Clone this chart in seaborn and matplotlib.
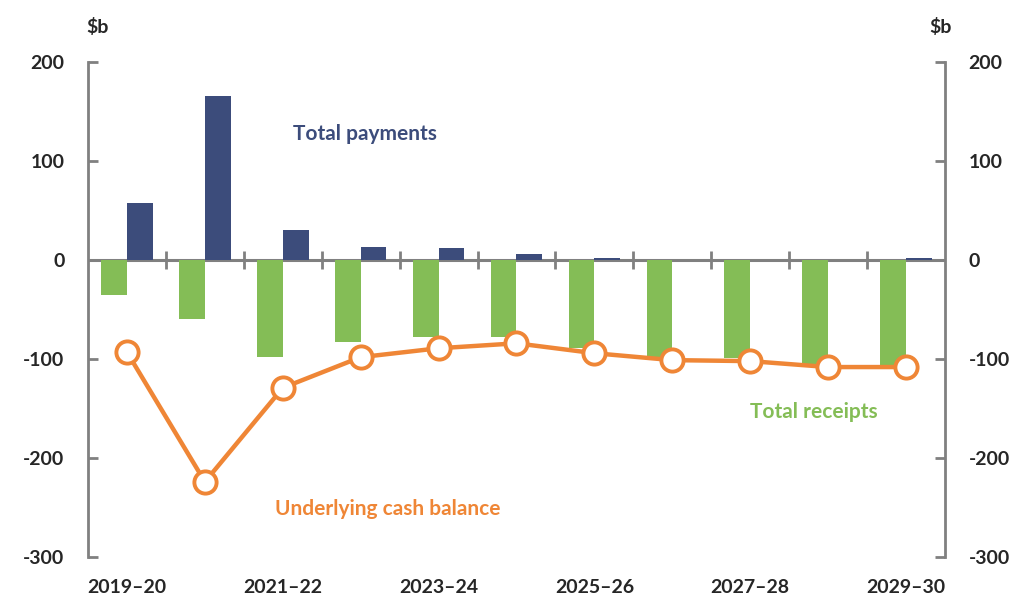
import numpy as np
import pandas as pd
import seaborn as sns
import matplotlib.pyplot as plt

years = ["2019–20", "2020–21", "2021–22", "2022–23", "2023–24", "2024–25",
         "2025–26", "2026–27", "2027–28", "2028–29", "2029–30"]
receipts = [-35, -59, -98, -83, -78, -78, -89, -98, -99, -108, -106]
payments = [58, 166, 31, 13, 12, 6, 2.5, 0.5, 0, 0, 2.5]
balance = [-93, -224, -129, -98, -89, -84, -94, -101, -102, -108, -108]

navy = "#3C4C7B"
green = "#84BD56"
orange = "#EF8636"
grey = "#808080"

sns.set_style("white")
plt.rcParams['font.family'] = ['Lato', 'DejaVu Sans']
plt.rcParams['font.weight'] = 'bold'
plt.rcParams['axes.unicode_minus'] = False

df = pd.DataFrame({
    "year": years * 2,
    "series": ["Total receipts"] * len(years) + ["Total payments"] * len(years),
    "value": receipts + payments,
})

fig = plt.figure(figsize=(10.25, 6.04), dpi=100)
ax = fig.add_axes([0.0859, 0.0778, 0.836, 0.819])

ax.axhline(0, color=grey, lw=2.2, zorder=0.5)
sns.barplot(data=df, x="year", y="value", hue="series", order=years,
            hue_order=["Total receipts", "Total payments"],
            palette=[green, navy], width=0.66, saturation=1, ax=ax,
            legend=False, linewidth=0, edgecolor="none")
sns.pointplot(x=years, y=balance, order=years, color=orange, errorbar=None,
              linewidth=3.2, marker="o", markersize=16, markerfacecolor="white",
              markeredgecolor=orange, markeredgewidth=2.8, ax=ax)

ax.set_ylim(-300, 200)
ax.set_xlim(-0.5, len(years) - 0.5)
ax.set_yticks(np.arange(-300, 201, 100))
ax.set_xlabel("")
ax.set_ylabel("")

ax.set_xticks(range(len(years)))
ax.set_xticklabels([y if i % 2 == 0 else "" for i, y in enumerate(years)])
ax.tick_params(axis="x", length=0, pad=16, labelsize=14)
ax.tick_params(axis="y", direction="in", length=7, width=2, color=grey,
               pad=17, labelsize=14, left=True)
for s in ["top", "bottom", "right"]:
    ax.spines[s].set_visible(False)
ax.spines["left"].set_color(grey)
ax.spines["left"].set_linewidth(2)

# right axis
ax2 = ax.twinx()
ax2.set_ylim(ax.get_ylim())
ax2.set_yticks(np.arange(-300, 201, 100))
ax2.tick_params(axis="y", direction="in", length=7, width=2, color=grey,
                pad=17, labelsize=14)
for s in ["top", "bottom", "left"]:
    ax2.spines[s].set_visible(False)
ax2.spines["right"].set_color(grey)
ax2.spines["right"].set_linewidth(2)

# category-boundary ticks on the zero line
zero_frac = (0 - (-300)) / (200 - (-300))
sec = ax.secondary_xaxis(zero_frac)
sec.set_xticks(np.arange(0.5, len(years) - 0.5, 1))
sec.set_xticklabels([])
sec.tick_params(direction="inout", length=13, width=2, color=grey)
for s in ["top", "bottom", "left", "right"]:
    sec.spines[s].set_visible(False)

# labels
ax.text(3.06, 128, "Total payments", color=navy, fontsize=15,
        fontweight="bold", ha="center", va="center")
ax.text(8.82, -153, "Total receipts", color=green, fontsize=15,
        fontweight="bold", ha="center", va="center")
ax.text(3.35, -251, "Underlying cash balance", color=orange, fontsize=15,
        fontweight="bold", ha="center", va="center")

fig.text(0.095, 0.955, "$b", fontsize=14, fontweight="bold", ha="center", va="center")
fig.text(0.918, 0.955, "$b", fontsize=14, fontweight="bold", ha="center", va="center")

fig.savefig("out.png", dpi=100)
